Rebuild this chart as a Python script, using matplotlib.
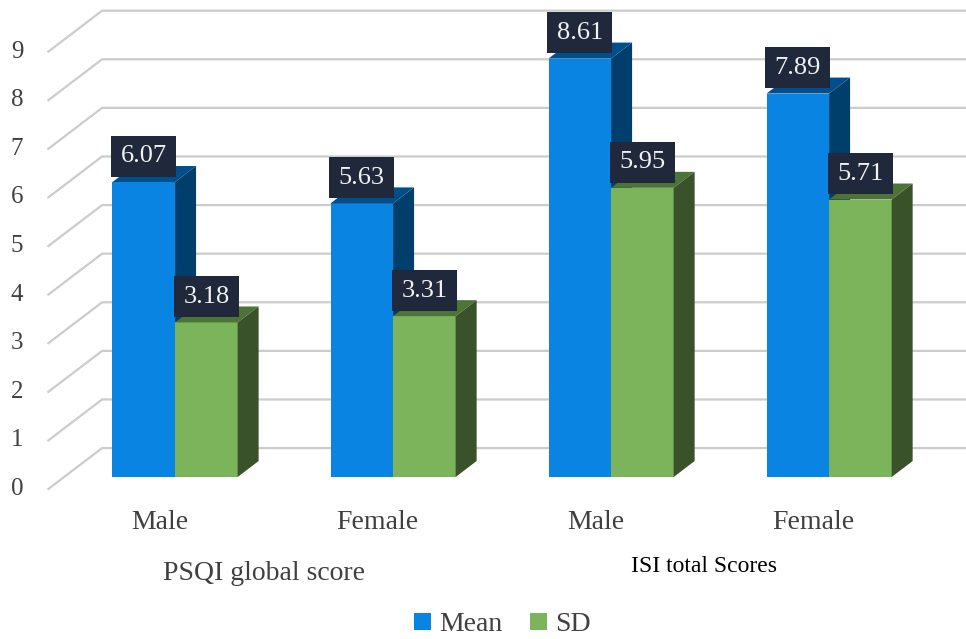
import matplotlib.pyplot as plt
from matplotlib.patches import Polygon

# Sleep scores by gender
groups = ['PSQI global score', 'ISI total Scores']
categories = ['Male', 'Female', 'Male', 'Female']
mean_vals = [6.07, 5.63, 8.61, 7.89]
sd_vals = [3.18, 3.31, 5.95, 5.71]
yticks = list(range(0, 10))

plt.rcParams['font.family'] = ['Liberation Serif', 'DejaVu Serif']

blue = ('#0a84e2', '#004f8c', '#003e6c')    # front, top, side
green = ('#7bb45b', '#4d7436', '#3a5229')
label_bg = '#1f293b'
grid_c = '#cccccc'
text_c = '#404040'

fig = plt.figure(figsize=(9.66, 6.39), dpi=100)
ax = fig.add_axes([0, 0, 1, 1])
ax.set_xlim(-0.803, 3.628)
ax.set_ylim(-3.333, 9.815)
ax.axis('off')

# one unit of depth in data units
ddx, ddy = 0.0963, 0.329
bw = 0.287
wall_x = -0.509
d_front, d_back = -0.75, 1.81

# gridlines: side wall diagonal plus back wall
for v in yticks:
    x0, y0 = wall_x + d_front * ddx, v + d_front * ddy
    x1, y1 = wall_x + d_back * ddx, v + d_back * ddy
    ax.plot([x0, x1, 3.7], [y0, y1, y1], color=grid_c, lw=1.6,
            solid_joinstyle='miter', zorder=1)
    ax.text(-0.725, y0, str(v), ha='center', va='center',
            fontsize=18, color=text_c)


def bar3d(x, v, cols):
    front, top, side = cols
    ax.add_patch(Polygon([(x, 0), (x + bw, 0), (x + bw, v), (x, v)],
                         closed=True, fc=front, ec='none', zorder=2))
    ax.add_patch(Polygon([(x, v), (x + bw, v), (x + bw + ddx, v + ddy),
                          (x + ddx, v + ddy)],
                         closed=True, fc=top, ec='none', zorder=2))
    ax.add_patch(Polygon([(x + bw, 0), (x + bw + ddx, ddy),
                          (x + bw + ddx, v + ddy), (x + bw, v)],
                         closed=True, fc=side, ec='none', zorder=2))


def value_label(x, v):
    ax.annotate(f'{v:.2f}', xy=(x + bw / 2, v), xytext=(0, 10.5),
                textcoords='offset points', ha='center', va='bottom',
                fontsize=19, color='#f2f2f2', zorder=5,
                bbox=dict(boxstyle='square,pad=0.36', fc=label_bg, ec='none'))


for i in range(len(categories)):
    bar3d(i - bw, mean_vals[i], blue)
    bar3d(i, sd_vals[i], green)

for i in range(len(categories)):
    value_label(i - bw, mean_vals[i])
    value_label(i, sd_vals[i])
    ax.text(i + d_front * ddx, -0.926, categories[i], ha='center',
            va='center', fontsize=20, color=text_c)

ax.text(0.5 + d_front * ddx - 0.02, -1.975, groups[0], ha='center',
        va='center', fontsize=20, color=text_c)
ax.text(2.5 + d_front * ddx, -1.85, groups[1], ha='center',
        va='center', fontsize=17, color='black')

# legend
ax.bar([0], [0], color=blue[0], label='Mean')
ax.bar([0], [0], color=green[0], label='SD')
ax.legend(loc='center', bbox_to_anchor=(0.52, 0.022), ncol=2, frameon=False,
          fontsize=20, handlelength=0.6, handleheight=0.6, handletextpad=0.3,
          columnspacing=1.0, labelcolor=text_c)

fig.savefig('out.png', dpi=100)
